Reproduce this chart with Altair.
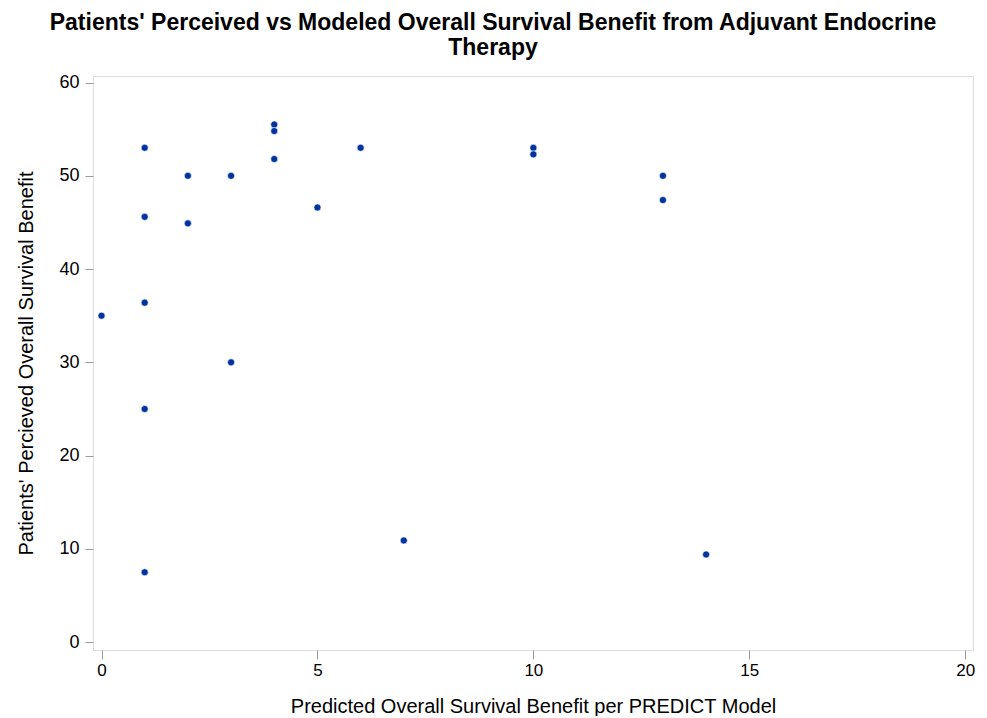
import altair as alt
import pandas as pd

predicted = [0, 1, 1, 1, 1, 1, 2, 2, 3, 3, 4, 4, 4, 5, 6, 7, 10, 10, 13, 13, 14]
perceived = [35, 53, 45.6, 36.4, 25, 7.5, 50, 44.9, 50, 30, 55.5, 54.8, 51.8, 46.6, 53, 10.9, 53, 52.3, 50, 47.4, 9.4]

df = pd.DataFrame({"predicted": predicted, "perceived": perceived})

x_ticks = [0, 5, 10, 15, 20]
y_ticks = [0, 10, 20, 30, 40, 50, 60]

chart = alt.Chart(df).mark_circle(size=50, opacity=1, color="#0033a0", stroke="#ffffff", strokeWidth=0.6).encode(
    x=alt.X("predicted:Q",
            scale=alt.Scale(domain=[-0.197, 20.18], nice=False, zero=False),
            axis=alt.Axis(values=x_ticks, title="Predicted Overall Survival Benefit per PREDICT Model",
                          grid=False, domain=False, tickColor="#9a9a9a", tickSize=9,
                          labelFont="Liberation Sans", labelFontSize=17, labelColor="#000000", labelPadding=3,
                          titleFont="Liberation Sans", titleFontSize=20, titleFontWeight="normal",
                          titleColor="#000000", titlePadding=18)),
    y=alt.Y("perceived:Q",
            scale=alt.Scale(domain=[-0.84, 60.7], nice=False, zero=False),
            axis=alt.Axis(values=y_ticks, title="Patients' Percieved Overall Survival Benefit",
                          grid=False, domain=False, tickColor="#9a9a9a", tickSize=8,
                          labelFont="Liberation Sans", labelFontSize=18, labelColor="#000000", labelPadding=6,
                          titleFont="Liberation Sans", titleFontSize=20, titleFontWeight="normal",
                          titleColor="#000000", titlePadding=22)),
).properties(
    width=880,
    height=574,
    autosize=alt.AutoSizeParams(type="none"),
    padding={"left": 85, "top": 68, "right": 6, "bottom": 66},
    title=alt.TitleParams(
        text=["Patients' Perceived vs Modeled Overall Survival Benefit from Adjuvant Endocrine", "Therapy"],
        font="Liberation Sans", fontSize=23, fontWeight="bold", color="#000000",
        anchor="middle", dx=-40, offset=14, lineHeight=25,
    ),
).configure_view(
    stroke="#a8a8a8", strokeWidth=1.5
).configure(background="#ffffff")

chart.save("out.html", embed_options={"renderer": "svg", "actions": False})
